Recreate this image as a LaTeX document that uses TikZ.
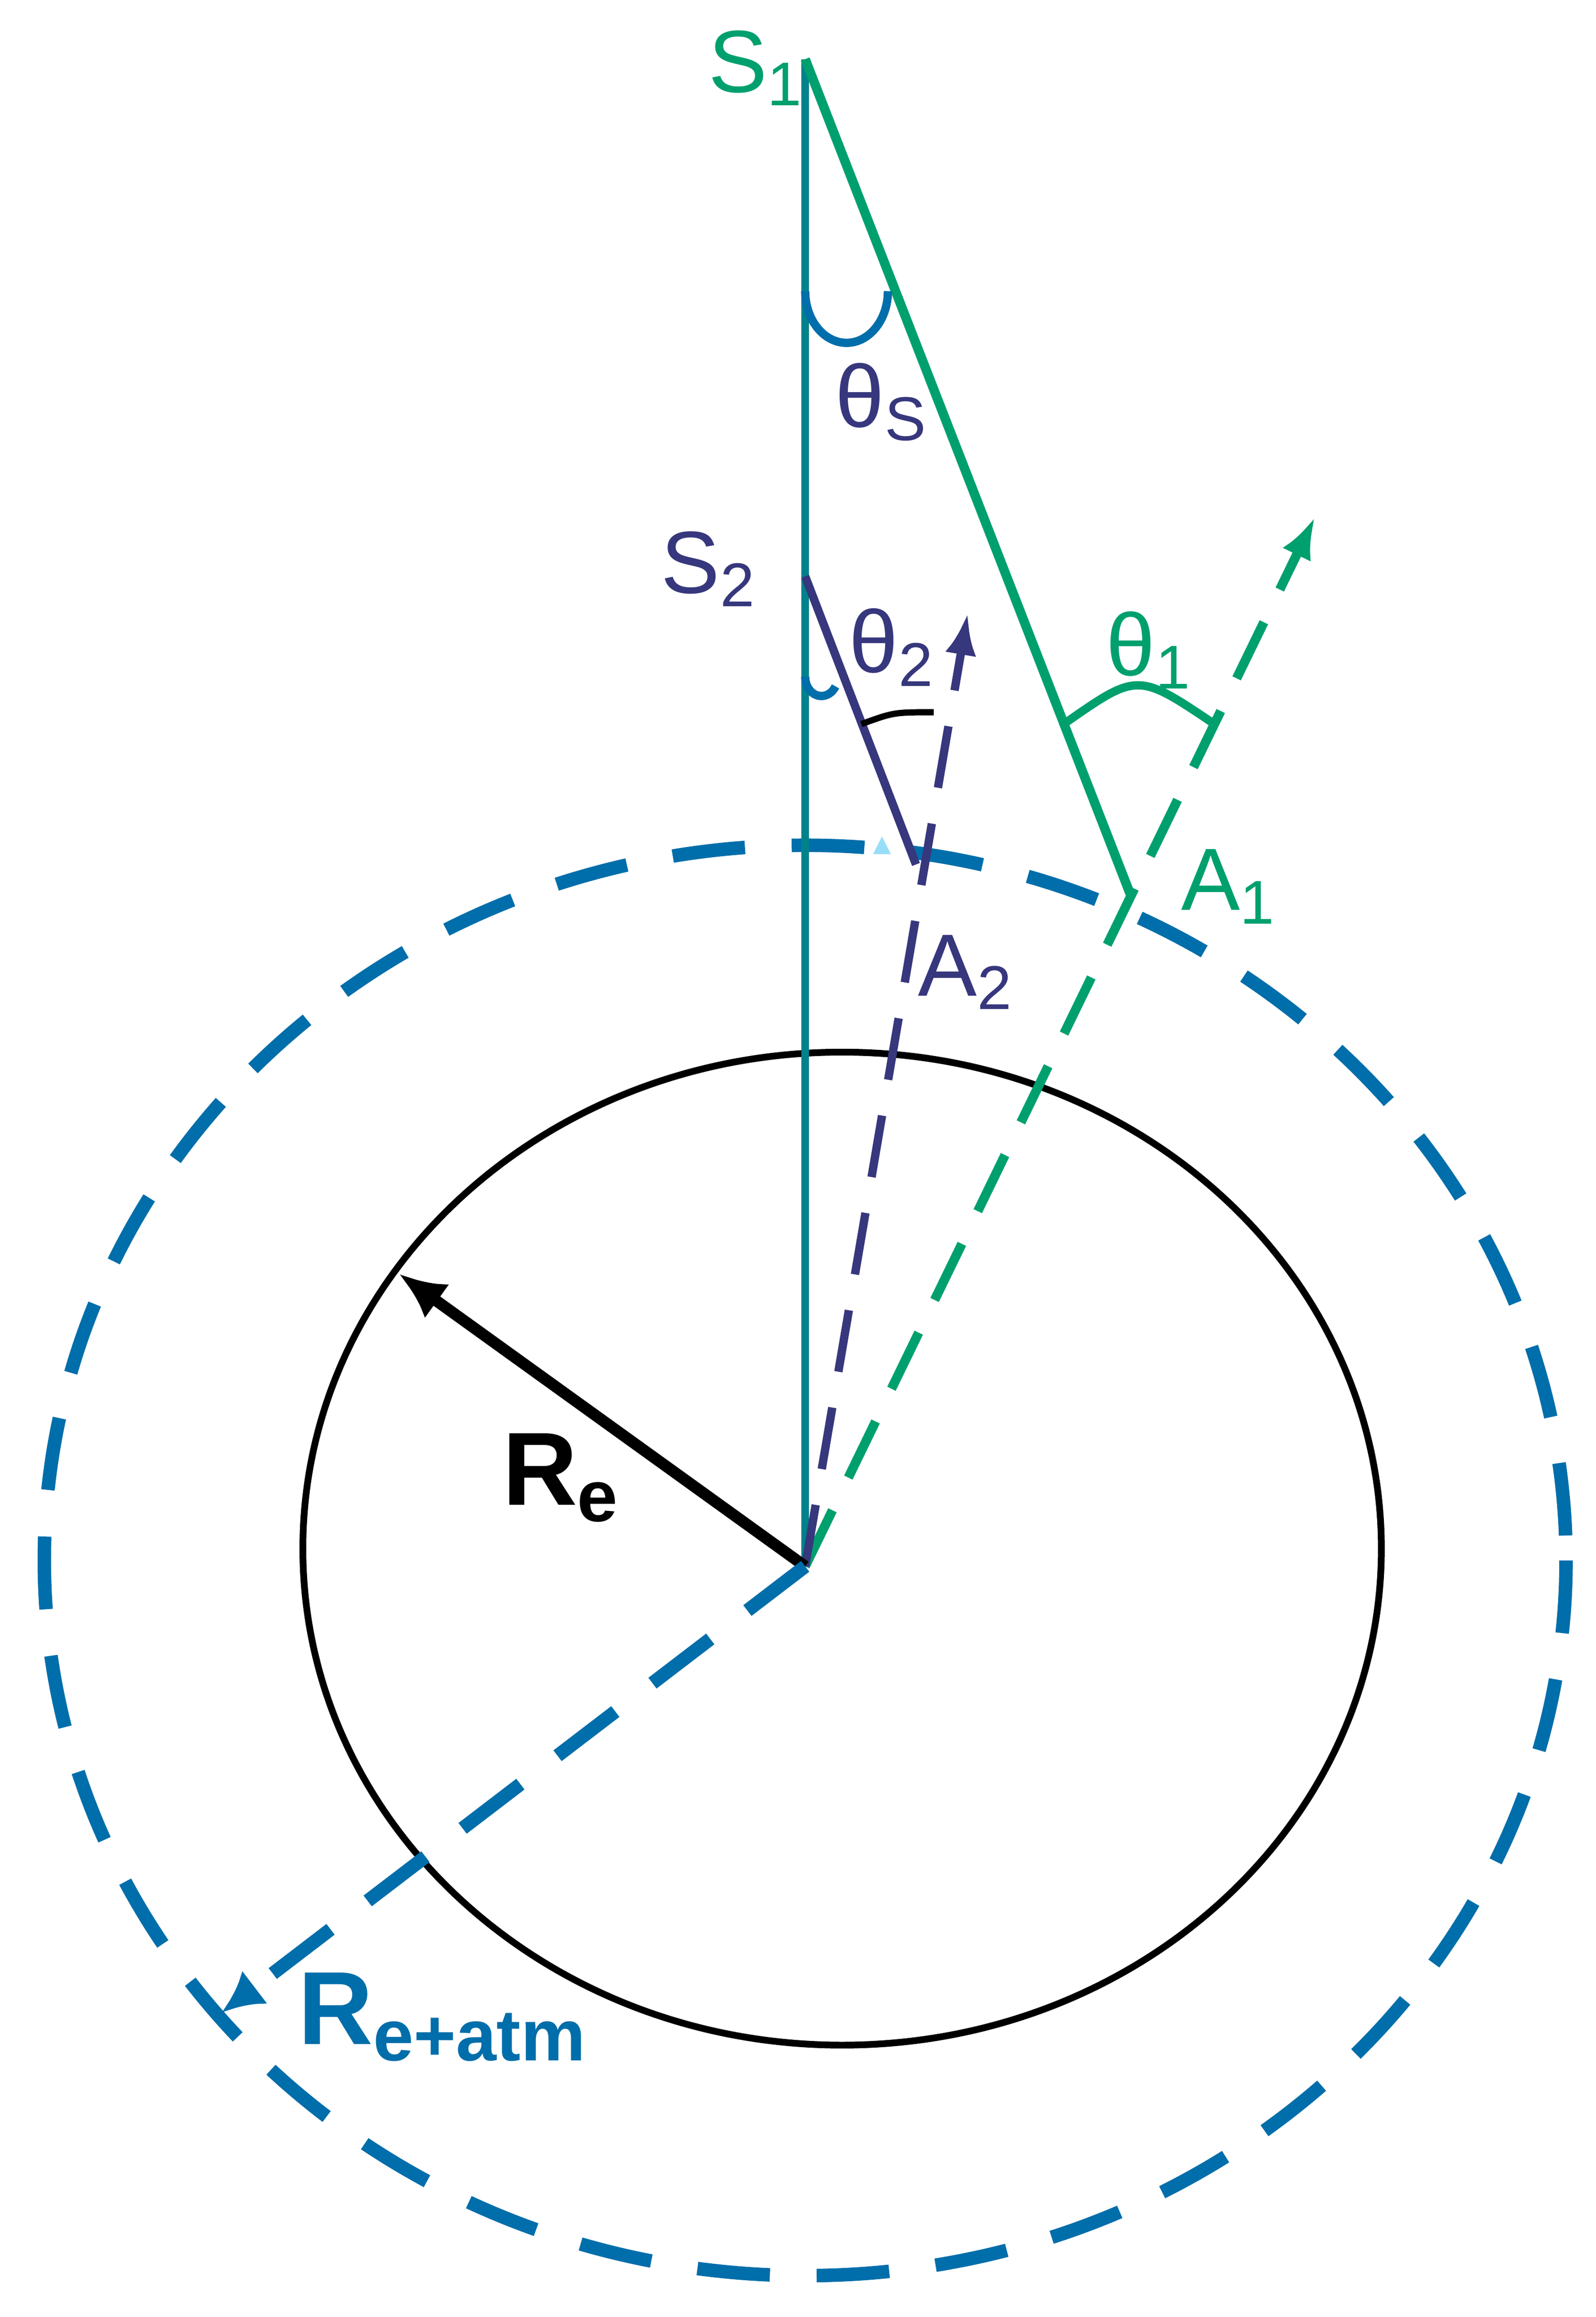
\documentclass[tikz,border=0pt]{standalone}
\usepackage{fontspec}
\setmainfont{Liberation Sans}
\usetikzlibrary{arrows.meta}
\definecolor{gr}{RGB}{0,160,110}
\definecolor{tl}{RGB}{0,130,140}
\definecolor{bl}{RGB}{0,110,170}
\definecolor{pu}{RGB}{55,55,125}
\begin{document}
\begin{tikzpicture}[x=0.01cm,y=-0.01cm,
  lbl/.style={font=\fontsize{17}{20}\selectfont},
  dsh/.style={dash pattern=on 14pt off 9pt}]
\useasboundingbox (0,0) rectangle (1080,1568);
\coordinate (C) at (545,1060);
\coordinate (S1) at (545,40);
\coordinate (S2) at (545,390);
\coordinate (A1) at (765,605);
\coordinate (A2) at (620,585);
\coordinate (G) at (890,350);
\coordinate (P) at (655,415);
\coordinate (R) at (270,862);
\coordinate (B) at (150,1362);
% circles
\draw[line width=1.3pt] (570,1048) ellipse [x radius=365, y radius=336];
\draw[bl,line width=2.6pt,dsh] (545,1056) ellipse [x radius=515, y radius=484];
% lines
\draw[tl,line width=1.4pt] (S1) -- (C);
\draw[gr,line width=1.8pt] (S1) -- (A1);
\draw[gr,line width=1.8pt,dash pattern=on 12pt off 7pt,-{Latex[length=8pt,width=6pt]}] (C) -- (G);
\draw[pu,line width=1.6pt] (S2) -- (A2);
\draw[pu,line width=1.6pt,dash pattern=on 12pt off 7pt,-{Latex[length=8pt,width=6pt]}] (C) -- (P);
\draw[line width=2.2pt,-{Latex[length=9pt,width=8pt]}] (C) -- (R);
\draw[bl,line width=2.6pt,dsh,-{Latex[length=8pt,width=8pt]}] (C) -- (B);
% angle arcs
\draw[bl,line width=1.6pt] (545,197) arc[start angle=180,end angle=0,x radius=28,y radius=35];
\draw[bl,line width=1.6pt] (545,458) arc[start angle=180,end angle=30,x radius=11,y radius=13];
\draw[line width=1.2pt] (583,490) .. controls (605,482) .. (632,482);
\draw[gr,line width=1.6pt] (720,490) .. controls (770,455) .. (822,490);
\fill[cyan!40] (591,578) -- (597,566) -- (603,578) -- cycle;
% labels
\node[lbl,gr] (s1) at (512,46) {S\textsubscript{1}};
\node[lbl,pu] (s2) at (480,385) {S\textsubscript{2}};
\node[lbl,pu] (ts) at (597,272) {θ\textsubscript{S}};
\node[lbl,pu] (t2) at (604,438) {θ\textsubscript{2}};
\node[lbl,gr] (t1) at (778,440) {θ\textsubscript{1}};
\node[lbl,gr] (a1) at (832,600) {A\textsubscript{1}};
\node[lbl,pu] (a2) at (654,658) {A\textsubscript{2}};
\node[font=\fontsize{20}{24}\selectfont\bfseries] (re) at (380,1000) {R\textsubscript{e}};
\node[bl,font=\fontsize{20}{24}\selectfont\bfseries] (ra) at (300,1365) {R\textsubscript{e+atm}};
\end{tikzpicture}
\end{document}
